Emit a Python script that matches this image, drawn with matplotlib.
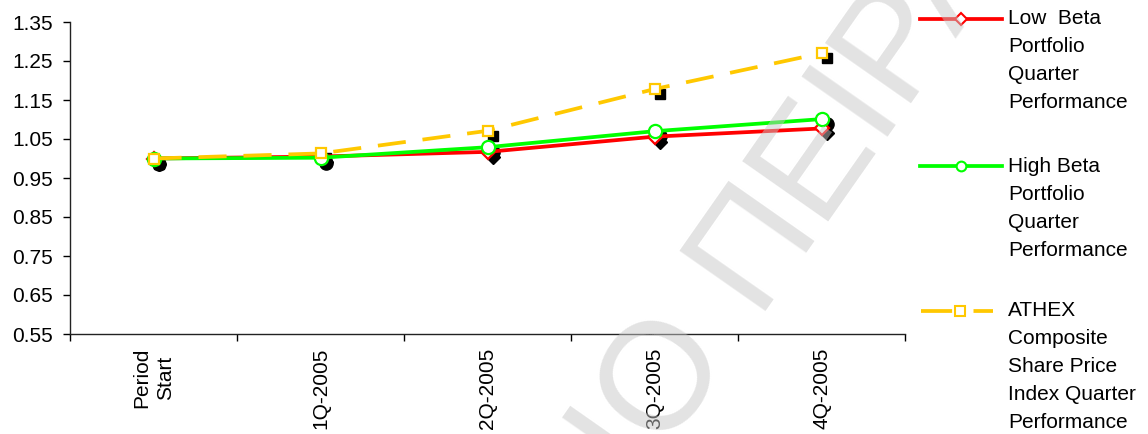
import matplotlib.pyplot as plt
import matplotlib.transforms as mtransforms
from matplotlib.ticker import FixedLocator, FormatStrFormatter

plt.rcParams['font.family'] = ['Liberation Sans', 'DejaVu Sans']

quarters = ["Period\nStart", "1Q-2005", "2Q-2005", "3Q-2005", "4Q-2005"]
low_beta = [1.000, 1.005, 1.017, 1.056, 1.077]
high_beta = [1.000, 1.002, 1.029, 1.070, 1.101]
athex = [1.000, 1.013, 1.071, 1.178, 1.270]
y_ticks = [0.55, 0.65, 0.75, 0.85, 0.95, 1.05, 1.15, 1.25, 1.35]

legend_labels = [
    ["Low  Beta", "Portfolio", "Quarter", "Performance"],
    ["High Beta", "Portfolio", "Quarter", "Performance"],
    ["ATHEX", "Composite", "Share Price", "Index Quarter", "Performance"],
]

RED = "#ff0000"
GREEN = "#00ff00"
YELLOW = "#ffc800"
FS = 15

fig = plt.figure(figsize=(11.48, 4.34), dpi=100)
ax = fig.add_axes([70 / 1148, 1 - 334 / 434, 835 / 1148, 312 / 434])

x = list(range(len(quarters)))
series = [
    (low_beta, RED, "D", 7.5, "-"),
    (high_beta, GREEN, "o", 9.5, "-"),
    (athex, YELLOW, "s", 7.5, "--"),
]

# drop shadows under the markers
shadow = mtransforms.offset_copy(ax.transData, fig=fig, x=5, y=-5, units="dots")
for vals, col, mk, ms, ls in series:
    ax.plot(x, vals, linestyle="none", marker=mk, ms=ms, color="black",
            transform=shadow, zorder=2)

for i, (vals, col, mk, ms, ls) in enumerate(series):
    line, = ax.plot(x, vals, color=col, lw=2.7, marker=mk, ms=ms,
                    mfc="white", mec=col, mew=1.6, zorder=3 + i)
    if ls == "--":
        line.set_dashes((7.5, 4.5))

ax.set_xlim(-0.5, 4.5)
ax.set_ylim(0.55, 1.35)
ax.yaxis.set_major_locator(FixedLocator(y_ticks))
ax.yaxis.set_major_formatter(FormatStrFormatter("%.2f"))
ax.set_xticks(x)
ax.set_xticklabels(quarters, rotation=90, va="top", ha="center",
                   multialignment="center", linespacing=1.3)
ax.set_xticks([v - 0.5 for v in range(len(quarters) + 1)], minor=True)
ax.tick_params(axis="x", which="major", length=0, pad=10, labelsize=FS)
ax.tick_params(axis="x", which="minor", length=5, width=1, direction="out")
ax.tick_params(axis="y", length=5, width=1, pad=7, labelsize=FS)
for s in ["top", "right"]:
    ax.spines[s].set_visible(False)
for s in ["left", "bottom"]:
    ax.spines[s].set_linewidth(1.0)
    ax.spines[s].set_color("#222222")

# overlay in pixel coordinates for the legend and the stamp
lax = fig.add_axes([0, 0, 1, 1], facecolor="none")
lax.set_xlim(0, 1148)
lax.set_ylim(434, 0)
lax.axis("off")

legend_y = [19, 166, 311]
for (vals, col, mk, ms, ls), lines, y0 in zip(series, legend_labels, legend_y):
    if ls == "--":
        h, = lax.plot([921, 993], [y0, y0], color=col, lw=2.7)
        h.set_dashes((8.3, 5.7))
        lax.plot([960], [y0], marker=mk, ms=6.5, mfc="white", mec=col, mew=1.5)
    else:
        lax.plot([920, 1002], [y0, y0], color=col, lw=2.7)
        lax.plot([961], [y0], marker=mk, ms=7.0 if mk == "o" else 6.3,
                 mfc="white", mec=col, mew=1.5)
    for k, txt in enumerate(lines):
        lax.text(1008, y0 + 28 * k, txt, fontsize=FS, va="center", ha="left")

stamp = dict(fontsize=110, color=(0.78, 0.78, 0.78), alpha=0.5, rotation=55,
             rotation_mode="anchor", va="baseline", zorder=10)
lax.text(728, 346, "ΠΑΝΕΠΙΣΤΗΜΙΟ", ha="right", **stamp)
lax.text(753, 311, "ΠΕΙΡΑΙΩΣ", ha="left", **stamp)

fig.savefig("out.png", dpi=100)
